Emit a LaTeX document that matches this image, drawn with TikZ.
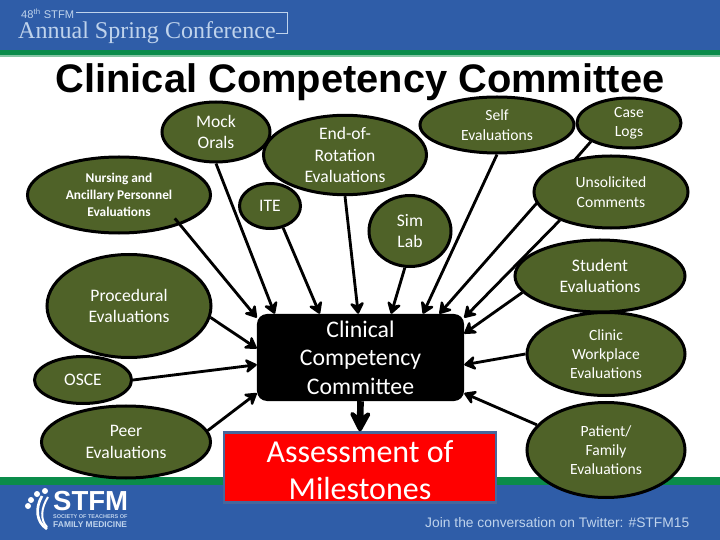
\documentclass[tikz,border=0pt]{standalone}
\usepackage{xcolor}
\usepackage{fontspec}
\setmainfont{Carlito}
\newfontfamily\titlefont{Liberation Sans}
\newfontfamily\bannerfont{Liberation Serif}
\usetikzlibrary{shapes.geometric,arrows.meta}
\definecolor{bandblue}{HTML}{2F5DA8}
\definecolor{bandgreen}{HTML}{0B8C4A}
\definecolor{paleblue}{HTML}{BFD3EC}
\definecolor{nodeolive}{HTML}{4F6228}
\begin{document}
\begin{tikzpicture}[x=0.03cm,y=-0.03cm,->,>={Stealth[round,length=0.42cm,width=0.52cm,inset=0.14cm]},
	link/.style={line width=0.085cm,black},
	eval node/.style={ellipse,draw=black,line width=0.09cm,fill=nodeolive,text=white,align=center,inner sep=0pt},
	body text/.style={font=\fontsize{15}{18.7}\selectfont},
	small text/.style={font=\fontsize{13.3}{16.5}\selectfont},
	tiny text/.style={font=\fontsize{11.4}{14.2}\bfseries\selectfont},
	band/.style={draw=none,fill=#1}]
	\useasboundingbox (0,0) rectangle (720,540);
	
	% page bands
	\path[band=white] (0,0) rectangle (720,540);
	\path[band=bandblue] (0,0) rectangle (720,50);
	\path[band=bandgreen] (0,50) rectangle (720,56);
	\path[band=bandgreen!50!white] (0,55.5) rectangle (720,57);
	\path[band=bandgreen] (0,477) rectangle (720,485);
	\path[band=bandblue] (0,485) rectangle (720,540);
	
	% banner texts
	\node[text=paleblue,font=\titlefont\fontsize{9.5}{11}\selectfont,anchor=west,inner sep=0pt] (year) at (21,13.5) {48\textsuperscript{th} STFM};
	\node[text=paleblue,font=\bannerfont\fontsize{20.5}{24}\selectfont,anchor=west,inner sep=0pt] (spring) at (18,33) {Annual Spring Conference};
	\draw[-,paleblue,line width=0.02cm] (year.east) ++(2,-1) -| (287,33) -- (spring.east);
	\node[text=white,font=\titlefont\fontsize{23.5}{24}\bfseries\selectfont,anchor=west,inner sep=0pt] (stfm) at (53,501) {STFM};
	\node[text=paleblue,font=\titlefont\fontsize{4.7}{6}\bfseries\selectfont,anchor=west,inner sep=0pt] (society) at (53,516.5) {SOCIETY OF TEACHERS OF};
	\node[text=paleblue,font=\titlefont\fontsize{7.2}{8}\bfseries\selectfont,anchor=west,inner sep=0pt] (family name) at (53,525) {FAMILY MEDICINE};
	\node[text=paleblue,font=\titlefont\fontsize{11.8}{13}\selectfont,anchor=west,inner sep=0pt] (twitter) at (425,523) {Join the conversation on Twitter: \#STFM15};
	\foreach \px/\py in {45/491,37/494,31/500,28/506}
		\fill[white] (\px,\py) circle (3);
	\draw[-,white,line width=0.08cm] (42,496) .. controls (35,508) and (36,522) .. (47,529);
	\draw[-,white,line width=0.06cm] (48,497) .. controls (41,508) and (40,520) .. (47,527);
	
	\node[font=\titlefont\fontsize{34}{36}\bfseries\selectfont,inner sep=0pt] (title) at (360,82) {Clinical Competency Committee};
	
	% committee and outcome
	\node[draw=none,fill=black,rounded corners=0.3cm,minimum width=6.21cm,minimum height=2.61cm,text=white,align=center,font=\fontsize{20.3}{24.3}\selectfont,inner sep=0pt] (ccc) at (360.5,357.5) {Clinical\\Competency\\Committee};
	\node[draw=bandblue!70!gray,line width=0.07cm,fill=red,minimum width=8.16cm,minimum height=2.1cm,text=white,align=center,font=\fontsize{27.3}{31.5}\selectfont,inner sep=0pt] (milestones) at (360,467.5) {\rule{0pt}{24pt}Assessment of\\Milestones};
	
	% case logs runs behind the unsolicited node
	\node[eval node,small text,minimum width=3.12cm,minimum height=1.5cm] (case) at (629,123) {Case\\Logs};
	\draw[link] (case.206.6) -- (ccc.29.3);
	
	\node[eval node,body text,minimum width=3.24cm,minimum height=1.8cm] (mock) at (216,132) {Mock\\Orals};
	\node[eval node,tiny text,minimum width=5.49cm,minimum height=2.28cm] (nursing) at (119,195) {Nursing and\\Ancillary Personnel\\Evaluations};
	\node[eval node,body text,minimum width=4.89cm,minimum height=2.22cm] (rotation) at (345,155) {End-of-\\Rotation\\Evaluations};
	\node[eval node,body text,minimum width=1.83cm,minimum height=1.35cm] (ite) at (270,206) {ITE};
	\node[eval node,small text,minimum width=4.62cm,minimum height=1.68cm] (self) at (497,125) {Self\\Evaluations};
	\node[eval node,small text,minimum width=4.62cm,minimum height=2.16cm] (unsolicited) at (611,192) {Unsolicited\\Comments};
	\node[eval node,body text,minimum width=2.46cm,minimum height=2.13cm] (sim) at (410,231) {Sim\\Lab};
	\node[eval node,body text,minimum width=5.1cm,minimum height=2.16cm] (student) at (600,276) {Student\\Evaluations};
	\node[eval node,body text,minimum width=4.92cm,minimum height=3.09cm] (procedural) at (129,306) {Procedural\\Evaluations};
	\node[eval node,body text,minimum width=2.91cm,minimum height=1.41cm] (osce) at (83,380) {OSCE};
	\node[eval node,body text,minimum width=5.07cm,minimum height=2.16cm] (peer) at (126,442) {Peer\\Evaluations};
	\node[eval node,small text,minimum width=4.74cm,minimum height=2.49cm] (workplace) at (606,354) {Clinic\\Workplace\\Evaluations};
	\node[eval node,small text,minimum width=4.74cm,minimum height=2.85cm] (family) at (606,450) {Patient/\\Family\\Evaluations};
	
	% arrows into the committee
	\draw[link,shorten <=-0.25cm] (nursing.-26) -- (ccc.159.4);
	\draw[link] (mock.south) -- (ccc.153.6);
	\draw[link] (procedural.-8.4) -- (ccc.175.3);
	\draw[link] (osce.east) -- (ccc.184.7);
	\draw[link] (peer.8.3) -- (ccc.199.1);
	\draw[link] (ite.-59.4) -- (ccc.133);
	\draw[link] (rotation.south) -- (ccc.93.3);
	\draw[link] (sim.-98) -- (ccc.55);
	\draw[link] (self.south) -- (ccc.35.3);
	\draw[link] (unsolicited.209.6) -- (ccc.21.8);
	\draw[link] (student.192) -- (ccc.13.3);
	\draw[link] (workplace.west) -- (ccc.-4.7);
	\draw[link] (family.160) -- (ccc.-19);
	\draw[->,>={Stealth[round,length=0.78cm,width=0.82cm,inset=0.3cm]},line width=0.2cm,black] (ccc.south) -- (milestones.north);
\end{tikzpicture}
\end{document}
